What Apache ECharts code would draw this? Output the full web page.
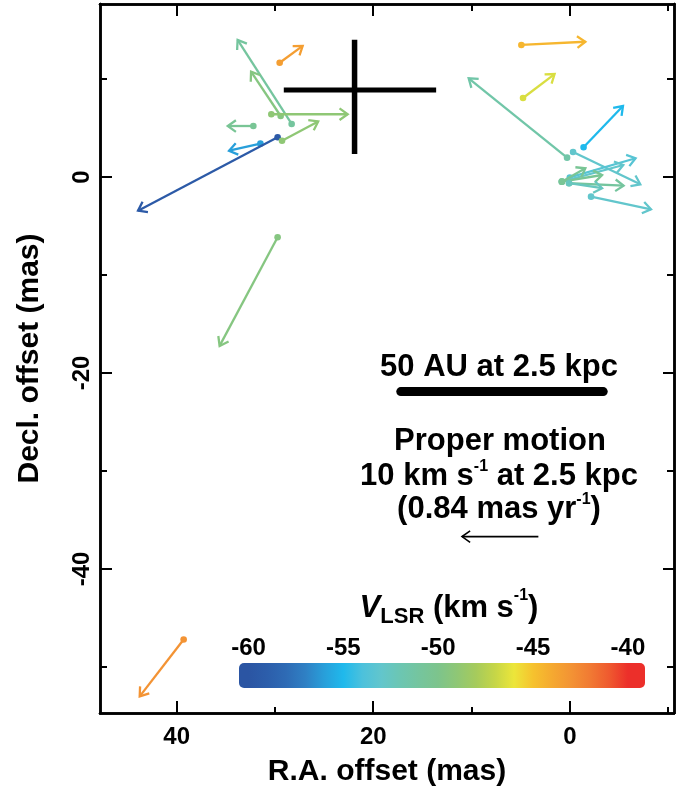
<!DOCTYPE html>
<html>
<head>
<meta charset="utf-8">
<script src="https://cdn.jsdelivr.net/npm/echarts@6/dist/echarts.min.js"></script>
<style>
  html, body { margin: 0; padding: 0; background: #fff; }
  #chart { width: 686px; height: 795px; }
</style>
</head>
<body>
<div id="chart"></div>
<script>
// maser spots: start position (mas), end of the proper-motion arrow (mas), VLSR (km/s)
const startRA  = [29.52, 28.3, 29.42, 30.37, 32.2, 31.48, 29.73, 29.28, 29.73, 39.29,
                  4.93, 4.76, 0.28, -1.4, -0.33, -2.16, 0.0, 0.81, 0.08, 0.81, 0.81, 0.08];
const startDec = [11.66, 5.41, 6.22, 6.4, 5.2, 3.4, 4.05, 3.7, -6.15, -47.2,
                  13.47, 8.06, 1.97, 3.03, 2.55, -2.01, -0.05, -0.48, -0.64, -0.48, -0.48, -0.64];
const endRA    = [27.18, 33.8, 32.43, 22.6, 34.8, 34.67, 43.93, 25.6, 35.63, 43.76,
                  -1.58, 1.55, 10.29, -5.41, -7.17, -8.26, -6.69, -5.44, -5.47, -1.58, -3.28, -3.28];
const endDec   = [13.37, 13.98, 10.74, 6.4, 5.2, 2.68, -3.44, 5.67, -17.24, -53.0,
                  13.8, 10.5, 10.07, 7.24, -0.75, -3.3, 1.91, 1.22, -0.89, 0.89, 0.2, -1.15];
const vlsr     = [-43.5, -51, -49.5, -49, -50.5, -56, -59.5, -49, -49.5, -43,
                  -44.5, -46.5, -51.5, -55, -53, -53, -53.5, -53, -51, -50.5, -50.5, -52.5];

// the black cross, the 50 AU scale bar and the reference proper-motion arrow (mas)
const crossH   = [[29.1, 8.88], [13.6, 8.88]];
const crossV   = [[21.9, 14.0], [21.9, 2.35]];
const scaleBar = [[17.2, -21.9], [-3.4, -21.9]];
const pmArrow  = [[3.2, -36.7, 10.97, -36.7]];

// axis ticks and colour bar
const majorX = [0, 20, 40];
const minorX = [-10, 10, 30];
const majorY = [0, -20, -40];
const minorY = [10, -10, -30, -50];
const cbTicks = [-60, -55, -50, -45, -40];

const colorList = ['#2b55a3', '#2c5eab', '#2e6bb5', '#2f80c4', '#289fda', '#1fb9ec', '#4cc1dc',
  '#62c6cc', '#6cc6b2', '#75c59e', '#7dc48c', '#8fc775', '#a6cb5c', '#c6d647', '#ece63a',
  '#f6c22e', '#f5a930', '#f39334', '#f17a33', '#ef5a2f', '#ec2f2a'];

const FONT = '"Liberation Sans", Arial, Helvetica, sans-serif';

const chart = echarts.init(document.getElementById('chart'));

function arrowRenderer(lineWidth, headLen, dot, fixedColor) {
  return function (params, api) {
    const p0 = api.coord([api.value(0), api.value(1)]);
    const p1 = api.coord([api.value(2), api.value(3)]);
    const color = fixedColor || api.visual('color');
    const ang = Math.atan2(p1[1] - p0[1], p1[0] - p0[0]);
    const spread = 0.62;
    const h1 = [p1[0] - headLen * Math.cos(ang - spread), p1[1] - headLen * Math.sin(ang - spread)];
    const h2 = [p1[0] - headLen * Math.cos(ang + spread), p1[1] - headLen * Math.sin(ang + spread)];
    const children = [
      { type: 'line', shape: { x1: p0[0], y1: p0[1], x2: p1[0], y2: p1[1] },
        style: { stroke: color, lineWidth: lineWidth } },
      { type: 'polyline', shape: { points: [h1, p1, h2] },
        style: { stroke: color, lineWidth: lineWidth, fill: null, lineJoin: 'miter' } }
    ];
    if (dot) {
      children.push({ type: 'circle', shape: { cx: p0[0], cy: p0[1], r: 3.3 }, style: { fill: color } });
    }
    return { type: 'group', children: children };
  };
}

const spots = startRA.map((x, i) => [x, startDec[i], endRA[i], endDec[i], vlsr[i]]);

// colour bar (pixel box), value range it spans
const cb = { x: 239, y: 663, w: 406, h: 25, min: -60.5, max: -39.1 };
const cbStops = colorList.map((c, i) => ({
  offset: Math.min(1, Math.max(0, (-60 + i - cb.min) / (cb.max - cb.min))),
  color: c
}));
cbStops.unshift({ offset: 0, color: colorList[0] });
cbStops.push({ offset: 1, color: colorList[colorList.length - 1] });
const cbX = v => cb.x + (v - cb.min) / (cb.max - cb.min) * cb.w;

const labelStyle = { fontSize: 24, fontWeight: 'bold', color: '#000', fontFamily: FONT };
const axisLine = { show: true, onZero: false, lineStyle: { color: '#000', width: 2.5 } };

function xAxisDef(pos, ticks, len, labels) {
  return {
    type: 'value', position: pos, min: -10.6, max: 47.8, inverse: true,
    axisLine: axisLine,
    axisTick: { show: true, inside: true, length: len, customValues: ticks,
                lineStyle: { color: '#000', width: 2 } },
    axisLabel: labels ? Object.assign({ customValues: ticks, margin: 12 }, labelStyle) : { show: false },
    splitLine: { show: false }
  };
}
function yAxisDef(pos, ticks, len, labels) {
  return {
    type: 'value', position: pos, min: -54.7, max: 17.65,
    axisLine: axisLine,
    axisTick: { show: true, inside: true, length: len, customValues: ticks,
                lineStyle: { color: '#000', width: 2 } },
    axisLabel: labels ? Object.assign({ customValues: ticks, margin: 6, rotate: 90 }, labelStyle) : { show: false },
    splitLine: { show: false }
  };
}

const xAxes = [
  xAxisDef('bottom', majorX, 12, true),
  xAxisDef('bottom', minorX, 6, false),
  xAxisDef('top', majorX, 12, false),
  xAxisDef('top', minorX, 7, false)
];
Object.assign(xAxes[0], {
  name: 'R.A. offset (mas)', nameLocation: 'middle', nameGap: 44,
  nameTextStyle: { fontSize: 30, fontWeight: 'bold', color: '#000', fontFamily: FONT }
});
const yAxes = [
  yAxisDef('left', majorY, 12, true),
  yAxisDef('left', minorY, 7, false),
  yAxisDef('right', majorY, 11, false),
  yAxisDef('right', minorY, 7, false)
];
Object.assign(yAxes[0], {
  name: 'Decl. offset (mas)', nameLocation: 'middle', nameGap: 55,
  nameTextStyle: { fontSize: 30, fontWeight: 'bold', color: '#000', fontFamily: FONT }
});

const bigText = { fontSize: 31, fontWeight: 'bold', fontFamily: FONT, fill: '#000' };
const richBase = {
  a: { fontSize: 31, fontWeight: 'bold', fontFamily: FONT, lineHeight: 34 },
  s: { fontSize: 16, fontWeight: 'bold', fontFamily: FONT, verticalAlign: 'top', lineHeight: 34 }
};

const graphics = [
  { type: 'rect', shape: { x: cb.x, y: cb.y, width: cb.w, height: cb.h, r: 5 },
    style: { fill: new echarts.graphic.LinearGradient(0, 0, 1, 0, cbStops) } },
  {
    type: 'text', x: 449, y: 608,
    style: {
      text: '{v|V}{l|LSR}{a| (km s}{s|-1}{a|)}', align: 'center', verticalAlign: 'middle',
      rich: {
        v: { fontSize: 31, fontWeight: 'bold', fontStyle: 'italic', fontFamily: FONT, lineHeight: 40 },
        l: { fontSize: 22, fontWeight: 'bold', fontFamily: FONT, verticalAlign: 'bottom', lineHeight: 40 },
        a: { fontSize: 31, fontWeight: 'bold', fontFamily: FONT, lineHeight: 40 },
        s: { fontSize: 16, fontWeight: 'bold', fontFamily: FONT, verticalAlign: 'top', lineHeight: 40 }
      }
    }
  },
  { type: 'text', x: 499, y: 367,
    style: Object.assign({ text: '50 AU at 2.5 kpc', align: 'center', verticalAlign: 'middle' }, bigText) },
  { type: 'text', x: 500, y: 441,
    style: Object.assign({ text: 'Proper motion', align: 'center', verticalAlign: 'middle' }, bigText) },
  { type: 'text', x: 499, y: 476,
    style: { text: '{a|10 km s}{s|-1}{a| at 2.5 kpc}', align: 'center', verticalAlign: 'middle', rich: richBase } },
  { type: 'text', x: 499, y: 509,
    style: { text: '{a|(0.84 mas yr}{s|-1}{a|)}', align: 'center', verticalAlign: 'middle', rich: richBase } }
];
cbTicks.forEach(v => {
  graphics.push({ type: 'text', x: cbX(v), y: 648,
    style: { text: String(v), align: 'center', verticalAlign: 'middle',
             fontSize: 24, fontWeight: 'bold', fontFamily: FONT, fill: '#000' } });
});

chart.setOption({
  animation: false,
  backgroundColor: '#fff',
  grid: { left: 100, right: 12, top: 4, bottom: 82, containLabel: false },
  xAxis: xAxes,
  yAxis: yAxes,
  visualMap: {
    type: 'continuous', show: false, seriesIndex: 0, dimension: 4,
    min: -60, max: -40, inRange: { color: colorList }
  },
  series: [
    { type: 'custom', data: spots, renderItem: arrowRenderer(2.3, 10, true), clip: false,
      encode: { x: [0, 2], y: [1, 3] } },
    { type: 'line', data: crossH, symbol: 'none', silent: true,
      lineStyle: { color: '#000', width: 5, cap: 'butt' } },
    { type: 'line', data: crossV, symbol: 'none', silent: true,
      lineStyle: { color: '#000', width: 5.5, cap: 'butt' } },
    { type: 'line', data: scaleBar, symbol: 'none', silent: true,
      lineStyle: { color: '#000', width: 9, cap: 'round' } },
    { type: 'custom', data: pmArrow, renderItem: arrowRenderer(1.6, 10, false, '#000'), clip: false,
      encode: { x: [0, 2], y: [1, 3] } }
  ],
  graphic: graphics
});
</script>
</body>
</html>
